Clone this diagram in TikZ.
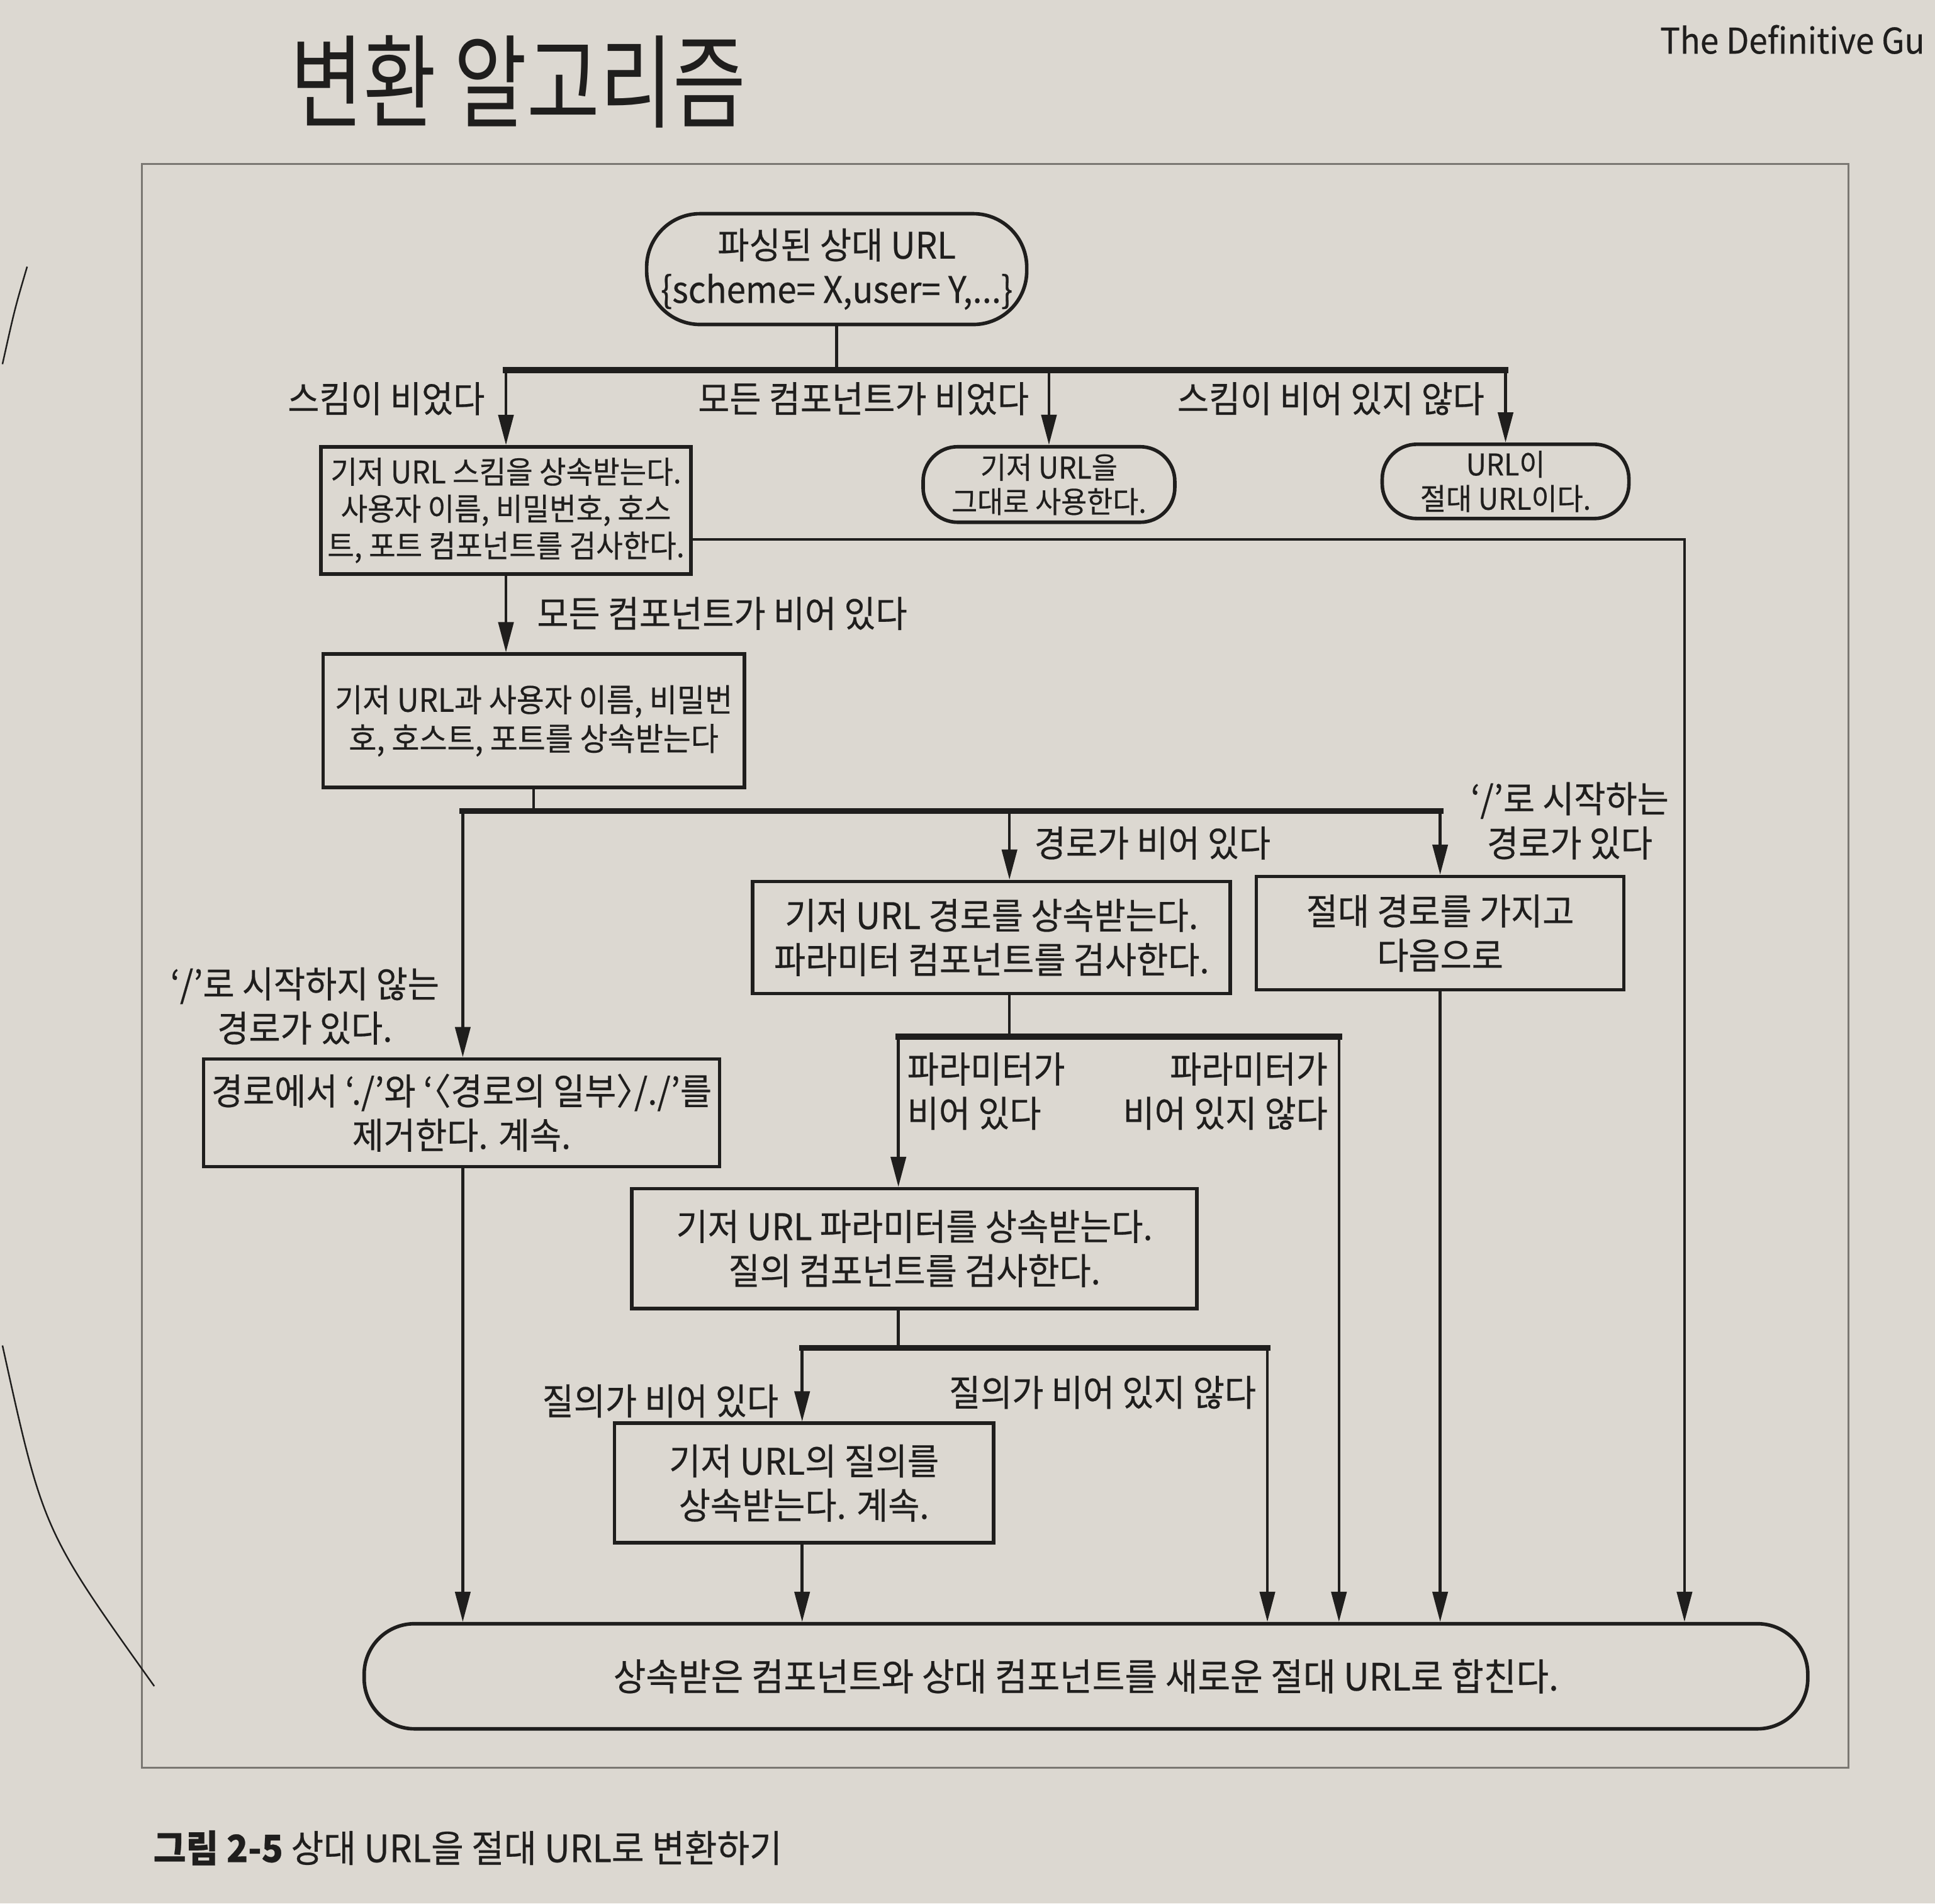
\documentclass[tikz,border=0pt]{standalone}
\usepackage{fontspec}
\setmainfont[FakeStretch=0.94, FakeBold=0.4]{Noto Sans CJK KR}
\newfontfamily\handfont[FakeStretch=0.78]{Noto Sans CJK KR}
\usetikzlibrary{arrows.meta}
\definecolor{page}{HTML}{DCD8D1}
\definecolor{ink}{HTML}{1F1E1D}
\definecolor{rule}{HTML}{7A7772}
\tikzset{
  box/.style={draw=ink, line width=1.6pt, rectangle, align=center, inner sep=2pt, text=ink, font=\fontsize{16.5}{20}\selectfont},
  term/.style={box, rounded corners=#1},
  term/.default=0.55cm,
  lbl/.style={text=ink, inner sep=1pt, font=\fontsize{16.5}{20}\selectfont},
  conn/.style={draw=ink, line width=1.3pt},
  arr/.style={conn, -{Triangle[length=4.8mm,width=2.4mm]}},
  split/.style={draw=ink, line width=2.8pt, line cap=rect}
}

\begin{document}
\begin{tikzpicture}[x=1.961cm, y=-1.961cm]
\useasboundingbox[fill=page] (0,0) rectangle (15.68,15.42);

% page furniture
\node[text=ink, font=\handfont\fontsize{46}{50}\selectfont] (hand) at (4.20,0.66) {변환 알고리즘};
\node[anchor=east, text=ink, font=\fontsize{16}{20}\selectfont] (runhead) at (15.66,0.32) {The Definitive Gu};
\draw[rule, line width=0.8pt] (1.15,1.33) rectangle (14.98,14.32);
\draw[ink, line width=0.7pt] (0.22,2.16) .. controls (0.12,2.5) .. (0.02,2.95);
\draw[ink, line width=0.7pt] (0.02,10.90) .. controls (0.35,12.40) .. (1.25,13.66);

% nodes
\node[term=0.85cm, minimum width=6.04cm, minimum height=1.76cm] (start) at (6.78,2.18) {파싱된 상대 URL\\\{scheme= X,user= Y,...\}};
\node[box, minimum width=5.88cm, minimum height=2.02cm, font=\fontsize{14}{16.7}\selectfont] (scheme) at (4.10,4.135) {기저 URL 스킴을 상속받는다.\\사용자 이름, 비밀번호, 호스\\트, 포트 컴포넌트를 검사한다.};
\node[term, minimum width=4.0cm, minimum height=1.2cm, font=\fontsize{13.5}{15.5}\selectfont] (asis) at (8.50,3.925) {기저 URL을\\그대로 사용한다.};
\node[term, minimum width=3.92cm, minimum height=1.18cm, font=\fontsize{13.5}{15.5}\selectfont] (absurl) at (12.20,3.90) {URL이\\절대 URL이다.};
\node[box, minimum width=6.69cm, minimum height=2.12cm, font=\fontsize{14.5}{17.5}\selectfont] (auth) at (4.325,5.84) {기저 URL과 사용자 이름, 비밀번\\호, 호스트, 포트를 상속받는다};
\node[box, minimum width=8.20cm, minimum height=1.71cm] (rmdots) at (3.74,9.015) {경로에서 ‘./’와 ‘\kern-0.45em〈경로의 일부〉\kern-0.45em/./’를\\제거한다. 계속.};
\node[box, minimum width=7.59cm, minimum height=1.78cm] (inhpath) at (8.035,7.595) {기저 URL 경로를 상속받는다.\\파라미터 컴포넌트를 검사한다.};
\node[box, minimum width=5.84cm, minimum height=1.80cm] (abspath) at (11.67,7.56) {절대 경로를 가지고\\다음으로};
\node[box, minimum width=8.98cm, minimum height=1.90cm] (inhparam) at (7.41,10.115) {기저 URL 파라미터를 상속받는다.\\질의 컴포넌트를 검사한다.};
\node[box, minimum width=6.02cm, minimum height=1.90cm] (inhquery) at (6.515,12.015) {기저 URL의 질의를\\상속받는다. 계속.};
\node[term=0.8cm, minimum width=22.94cm, minimum height=1.67cm, font=\fontsize{17}{20}\selectfont] (merge) at (8.80,13.58) {상속받은 컴포넌트와 상대 컴포넌트를 새로운 절대 URL로 합친다.};

% branch points
\coordinate (j1) at (6.78,3.00);
\coordinate (j1l) at (4.10,3.00);
\coordinate (j1m) at (8.50,3.00);
\coordinate (j1r) at (12.20,3.00);
\coordinate (j2) at (4.33,6.57);
\coordinate (j2l) at (3.75,6.57);
\coordinate (j2m) at (8.18,6.57);
\coordinate (j2r) at (11.67,6.57);
\coordinate (j3) at (8.18,8.40);
\coordinate (j3l) at (7.28,8.40);
\coordinate (j3r) at (10.85,8.40);
\coordinate (j4) at (7.28,10.92);
\coordinate (j4l) at (6.50,10.92);
\coordinate (j4r) at (10.27,10.92);
\coordinate (e1) at (13.65,4.37);

% scheme split
\draw[conn] (start.south) -- (j1);
\draw[split] (j1l) -- (j1r);
\draw[arr] (j1l) -- (j1l |- scheme.north);
\draw[arr] (j1m) -- (asis.north);
\draw[arr] (j1r) -- (absurl.north);
\node[lbl, anchor=east] (l1) at (3.95,3.23) {스킴이 비었다};
\node[lbl, anchor=east] (l2) at (8.36,3.23) {모든 컴포넌트가 비었다};
\node[lbl, anchor=east] (l3) at (12.05,3.23) {스킴이 비어 있지 않다};
\draw[arr] (scheme.east |- e1) -- (e1) -- (e1 |- merge.north);

% authority
\draw[arr] (scheme.south) -- (scheme.south |- auth.north);
\node[lbl, anchor=west] (l4) at (4.33,4.97) {모든 컴포넌트가 비어 있다};

% path split
\draw[conn] (auth.south) -- (auth.south |- j2);
\draw[split] (j2l) -- (j2r);
\draw[arr] (j2l) -- (j2l |- rmdots.north);
\draw[arr] (j2m) -- (j2m |- inhpath.north);
\draw[arr] (j2r) -- (abspath.north);
\node[lbl, align=center] (l5) at (2.47,8.15) {‘/’로 시작하지 않는\\경로가 있다.};
\node[lbl, anchor=west] (l6) at (8.36,6.83) {경로가 비어 있다};
\node[lbl, align=center] (l7) at (12.72,6.65) {‘/’로 시작하는\\경로가 있다};
\draw[arr] (rmdots.south -| j2l) -- (j2l |- merge.north);
\draw[arr] (abspath.south) -- (abspath.south |- merge.north);

% param split
\draw[conn] (j3 |- inhpath.south) -- (j3);
\draw[split] (j3l) -- (j3r);
\draw[arr] (j3l) -- (j3l |- inhparam.north);
\draw[arr] (j3r) -- (j3r |- merge.north);
\node[lbl, anchor=west, align=left] (l8) at (7.33,8.84) {파라미터가\\비어 있다};
\node[lbl, anchor=east, align=right] (l9) at (10.78,8.84) {파라미터가\\비어 있지 않다};

% query split
\draw[conn] (j4 |- inhparam.south) -- (j4);
\draw[split] (j4l) -- (j4r);
\draw[arr] (j4l) -- (j4l |- inhquery.north);
\draw[arr] (j4r) -- (j4r |- merge.north);
\node[lbl, anchor=east] (l10) at (6.33,11.35) {질의가 비어 있다};
\node[lbl, anchor=east] (l11) at (10.20,11.28) {질의가 비어 있지 않다};
\draw[arr] (inhquery.south -| j4l) -- (j4l |- merge.north);

% caption
\node[anchor=west, text=ink, font=\fontsize{17}{20}\selectfont] (caption) at (1.18,14.97) {\textbf{그림 2-5} 상대 URL을 절대 URL로 변환하기};
\end{tikzpicture}
\end{document}
